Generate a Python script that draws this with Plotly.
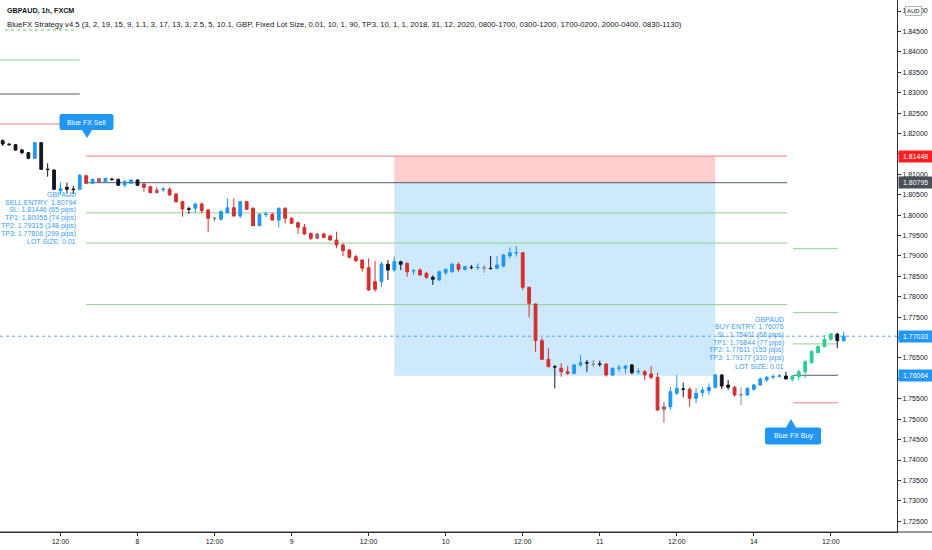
import pandas as pd
import plotly.graph_objects as go

# ---------------- data ----------------
bar_times = (list(pd.date_range("2020-12-07 03:00", "2020-12-11 21:00", freq="h")) +
             list(pd.date_range("2020-12-13 22:00", "2020-12-14 14:00", freq="h")))

open_ = [1.81823,1.81742,1.81725,1.81595,1.81529,1.81392,1.81774,1.81130,1.81105,1.80598,
         1.80681,1.80640,1.80632,1.80965,1.80779,1.80892,1.80818,1.80885,1.80877,1.80738,
         1.80779,1.80860,1.80762,1.80696,1.80615,1.80625,1.80632,1.80517,1.80328,1.80157,
         1.80167,1.80272,1.80125,1.79929,1.79897,1.80059,1.80181,1.79978,1.80328,1.80167,
         1.79740,1.80012,1.80020,1.79880,1.80167,1.79922,1.79814,1.79701,1.79554,1.79537,
         1.79537,1.79488,1.79390,1.79268,1.79145,1.78981,1.78900,1.78711,1.78368,1.78368,
         1.78655,1.78655,1.78858,1.78819,1.78631,1.78655,1.78574,1.78476,1.78410,1.78589,
         1.78613,1.78795,1.78672,1.78721,1.78714,1.78711,1.78697,1.78697,1.78753,1.78998,
         1.79070,1.79079,1.78231,1.77822,1.76923,1.76467,1.76286,1.76247,1.76163,1.76124,
         1.76328,1.76384,1.76352,1.76352,1.76352,1.76083,1.76247,1.76247,1.76328,1.76163,
         1.76163,1.76107,1.76026,1.75306,1.75306,1.75634,1.75740,1.75732,1.75512,1.75649,
         1.75698,1.75781,1.76083,1.75838,1.75781,1.75593,1.75593,1.75732,1.75838,1.75960,
         1.76034,1.76051,1.76058,1.75977,1.76041,1.76163,1.76384,1.76629,1.76776,1.76957,
         1.77087,1.76923]
high = [1.81857,1.81759,1.81742,1.81627,1.81546,1.81791,1.81791,1.81269,1.81122,1.80804,
        1.80794,1.80713,1.81007,1.80990,1.80892,1.80916,1.80909,1.80916,1.80892,1.80860,
        1.80877,1.80877,1.80794,1.80713,1.80696,1.80681,1.80681,1.80534,1.80353,1.80206,
        1.80304,1.80304,1.80142,1.79961,1.80125,1.80412,1.80412,1.80353,1.80353,1.80191,
        1.80044,1.80083,1.80059,1.80191,1.80191,1.79946,1.79838,1.79782,1.79569,1.79569,
        1.79569,1.79513,1.79593,1.79309,1.79162,1.79023,1.78917,1.78942,1.78883,1.78858,
        1.78900,1.78981,1.78883,1.78834,1.78672,1.78697,1.78613,1.78525,1.78638,1.78697,
        1.78834,1.78844,1.78753,1.78778,1.78819,1.78778,1.78998,1.78998,1.79047,1.79211,
        1.79243,1.79096,1.78246,1.77839,1.76989,1.76737,1.76328,1.76369,1.76303,1.76352,
        1.76573,1.76450,1.76450,1.76433,1.76369,1.76271,1.76328,1.76328,1.76352,1.76247,
        1.76205,1.76303,1.76139,1.75428,1.75796,1.76083,1.75894,1.75781,1.75757,1.75781,
        1.75879,1.76107,1.76107,1.75960,1.75813,1.75781,1.75781,1.75862,1.76026,1.76058,
        1.76107,1.76107,1.76163,1.76083,1.76222,1.76450,1.76695,1.76818,1.77063,1.77119,
        1.77119,1.77143]
low = [1.81693,1.81700,1.81578,1.81490,1.81367,1.81382,1.81105,1.80941,1.80615,1.80517,
       1.80534,1.80517,1.80615,1.80762,1.80762,1.80794,1.80804,1.80843,1.80713,1.80681,
       1.80762,1.80713,1.80573,1.80534,1.80534,1.80566,1.80475,1.80304,1.79961,1.80027,
       1.80059,1.80044,1.79593,1.79838,1.79863,1.80044,1.79961,1.79922,1.80125,1.79733,
       1.79733,1.79946,1.79863,1.79701,1.79799,1.79782,1.79537,1.79513,1.79390,1.79407,
       1.79432,1.79373,1.79187,1.78998,1.78942,1.78858,1.78613,1.78148,1.78123,1.78246,
       1.78410,1.78613,1.78655,1.78491,1.78533,1.78508,1.78442,1.78288,1.78393,1.78533,
       1.78589,1.78613,1.78638,1.78672,1.78655,1.78589,1.78672,1.78672,1.78721,1.78942,
       1.78981,1.78165,1.77496,1.76653,1.76450,1.76271,1.75757,1.76041,1.76083,1.76100,
       1.76286,1.76163,1.76271,1.76286,1.76041,1.76058,1.76163,1.76124,1.76100,1.76100,
       1.75960,1.75977,1.75208,1.74914,1.75225,1.75593,1.75536,1.75306,1.75389,1.75551,
       1.75593,1.75757,1.75732,1.75715,1.75551,1.75348,1.75568,1.75698,1.75813,1.75918,
       1.75977,1.76026,1.75977,1.75918,1.75943,1.76002,1.76352,1.76614,1.76761,1.76923,
       1.76737,1.76898]
close = [1.81742,1.81727,1.81595,1.81529,1.81392,1.81774,1.81122,1.81115,1.80632,1.80647,
         1.80632,1.80625,1.80975,1.80779,1.80877,1.80811,1.80902,1.80870,1.80730,1.80818,
         1.80860,1.80730,1.80681,1.80549,1.80549,1.80640,1.80493,1.80328,1.80150,1.80142,
         1.80272,1.80108,1.79922,1.79914,1.80083,1.80181,1.79978,1.80328,1.80142,1.79740,
         1.80020,1.80027,1.79880,1.80167,1.79922,1.79799,1.79701,1.79537,1.79432,1.79432,
         1.79456,1.79390,1.79268,1.79128,1.78966,1.78883,1.78697,1.78165,1.78182,1.78802,
         1.78795,1.78858,1.78795,1.78613,1.78643,1.78533,1.78476,1.78427,1.78613,1.78672,
         1.78795,1.78672,1.78736,1.78714,1.78721,1.78704,1.78689,1.78778,1.79023,1.79079,
         1.79082,1.78231,1.77839,1.76923,1.76467,1.76286,1.76278,1.76163,1.76124,1.76328,
         1.76384,1.76377,1.76345,1.76345,1.76083,1.76247,1.76254,1.76303,1.76139,1.76171,
         1.76083,1.76026,1.75225,1.75242,1.75673,1.75757,1.75732,1.75512,1.75634,1.75715,
         1.75781,1.76083,1.75813,1.75781,1.75593,1.75602,1.75757,1.75838,1.75985,1.76026,
         1.76041,1.76058,1.75985,1.76058,1.76163,1.76408,1.76653,1.76776,1.76957,1.77087,
         1.76923,1.77033]
# bar colour codes (K black, B blue, R red, Q grey-red, G grey, T teal)
bar_colors = ("KKKKKBKKKB" "KKBRBQBKKB" "BKRRQBRRRK" "BRRGBBRBRR" "BBRBRRRRRQ"
              "RRRRRRRRRB" "KBKRBRRKBB" "BRBKBGKBBB" "BRRRRRKRRB" "BKGKRBBBKB"
              "RRRQBBKRBB" "BBKKRGBBBB" "BBKTTTTTTT" "KB")

tick_times = ["2020-12-07 12:00", "2020-12-08 00:00", "2020-12-08 12:00", "2020-12-09 00:00",
              "2020-12-09 12:00", "2020-12-10 00:00", "2020-12-10 12:00", "2020-12-11 00:00",
              "2020-12-11 12:00", "2020-12-14 00:00", "2020-12-14 12:00"]
tick_labels = ["12:00", "8", "12:00", "9", "12:00", "10", "12:00", "11", "12:00", "14", "12:00"]

sell_levels = {"sl": 1.81446, "entry": 1.80794, "tp1": 1.80055, "tp2": 1.79315, "tp3": 1.77806}
buy_levels = {"sl": 1.75401, "entry": 1.76076, "tp1": 1.76844, "tp2": 1.77611, "tp3": 1.79177}
prev_levels = {"tp": 1.8380, "entry": 1.82967, "sl": 1.82232}
box_top, box_mid, box_bottom = 1.81448, 1.80795, 1.76064
last_price = 1.77033

sell_text = ["GBPAUD", "SELL ENTRY: 1.80794", "SL: 1.81446 (65 pips)", "TP1: 1.80055 (74 pips)",
             "TP2: 1.79315 (148 pips)", "TP3: 1.77806 (299 pips)", "LOT SIZE: 0.01"]
buy_text = ["GBPAUD", "BUY ENTRY: 1.76076", "SL: 1.75401 (68 pips)", "TP1: 1.76844 (77 pips)",
            "TP2: 1.77611 (153 pips)", "TP3: 1.79177 (310 pips)", "LOT SIZE: 0.01"]

title1 = "GBPAUD, 1h, FXCM"
title2 = ("BlueFX Strategy v4.5 (3, 2, 19, 15, 9, 1.1, 3, 17, 13, 3, 2.5, 5, 10.1, GBP, Fixed Lot Size, "
          "0.01, 10, 1, 90, TP3, 10, 1, 1, 2018, 31, 12, 2020, 0800-1700, 0300-1200, 1700-0200, "
          "2000-0400, 0830-1130)")

# ---------------- styling / layout helpers ----------------
W, H = 932, 550
ML, MR, MT, MB = 0, 35, 0, 18
PW, PH = W - ML - MR, H - MT - MB
FONT = "Liberation Sans, Arial, sans-serif"
COLS = {"K": "#131722", "B": "#2196f3", "R": "#d32f2f", "Q": "#a85a70", "G": "#8c8c8c", "T": "#2ecc9a"}
BLUE = "#2196f3"
TXT_BLUE = "#3a9cf0"

def PX(x):
    return x / PW

def PY(y):
    return 1 - y / PH

def P(x, y):
    return f"{PX(x):.5f},{PY(y):.5f}"

xs = list(range(len(close)))
time_index = {t.strftime("%Y-%m-%d %H:%M"): i for i, t in enumerate(bar_times)}
tickvals = [time_index[t] for t in tick_times]

fig = go.Figure()

for code, col in COLS.items():
    idx = [i for i, c in enumerate(bar_colors) if c == code]
    if not idx:
        continue
    fig.add_trace(go.Candlestick(
        x=[xs[i] for i in idx], open=[open_[i] for i in idx], high=[high[i] for i in idx],
        low=[low[i] for i in idx], close=[close[i] for i in idx],
        increasing=dict(line=dict(color=col, width=1), fillcolor=col),
        decreasing=dict(line=dict(color=col, width=1), fillcolor=col),
        whiskerwidth=0, showlegend=False, hoverinfo="skip"))

shapes = []
# position tool boxes
shapes.append(dict(type="rect", xref="x", yref="y", x0=61, x1=111, y0=box_mid, y1=box_top,
                   fillcolor="rgba(255,82,82,0.28)", line=dict(width=0), layer="below"))
shapes.append(dict(type="rect", xref="x", yref="y", x0=61, x1=111, y0=box_bottom, y1=box_mid,
                   fillcolor="rgba(33,150,243,0.22)", line=dict(width=0), layer="below"))

LC = {"sl": "#f07c7c", "entry": "#555a66", "tp1": "#8fcf8f", "tp2": "#8fcf8f", "tp3": "#8fcf8f", "tp": "#8fcf8f"}
for k, v in sell_levels.items():
    shapes.append(dict(type="line", xref="x", yref="y", x0=13, x1=122.2, y0=v, y1=v,
                       line=dict(color=LC[k], width=1), layer="below"))
for k, v in buy_levels.items():
    shapes.append(dict(type="line", xref="x", yref="y", x0=123.1, x1=130.1, y0=v, y1=v,
                       line=dict(color=LC[k], width=1), layer="below"))
for k, v in prev_levels.items():
    shapes.append(dict(type="line", xref="x", yref="y", x0=-0.5, x1=12, y0=v, y1=v,
                       line=dict(color=LC[k], width=1), layer="below"))
# last price dotted line
shapes.append(dict(type="line", xref="paper", yref="y", x0=0, x1=1, y0=last_price, y1=last_price,
                   line=dict(color="#5aa9ee", width=1, dash="dot"), layer="below"))
# bottom axis line extended under price scale
shapes.append(dict(type="line", xref="paper", yref="paper", x0=0, x1=W / PW, y0=0, y1=0,
                   line=dict(color="#2a2e39", width=1)))
# green underline of the indicator name
shapes.append(dict(type="line", xref="paper", yref="paper", x0=PX(5), x1=PX(76), y0=PY(30), y1=PY(30),
                   line=dict(color="#6cc070", width=1, dash="dot")))

# callouts
sell_path = ("M " + P(61.5, 114) + " L " + P(111.5, 114) + " Q " + P(113.5, 114) + " " + P(113.5, 116) +
             " L " + P(113.5, 128) + " Q " + P(113.5, 130) + " " + P(111.5, 130) +
             " L " + P(92, 130) + " L " + P(87, 138) + " L " + P(82, 130) +
             " L " + P(61.5, 130) + " Q " + P(59.5, 130) + " " + P(59.5, 128) +
             " L " + P(59.5, 116) + " Q " + P(59.5, 114) + " " + P(61.5, 114) + " Z")
buy_path = ("M " + P(767, 427.5) + " L " + P(786, 427.5) + " L " + P(791, 419) + " L " + P(796, 427.5) +
            " L " + P(819, 427.5) + " Q " + P(821, 427.5) + " " + P(821, 429.5) +
            " L " + P(821, 442.5) + " Q " + P(821, 444.5) + " " + P(819, 444.5) +
            " L " + P(767, 444.5) + " Q " + P(765, 444.5) + " " + P(765, 442.5) +
            " L " + P(765, 429.5) + " Q " + P(765, 427.5) + " " + P(767, 427.5) + " Z")
for pth in (sell_path, buy_path):
    shapes.append(dict(type="path", xref="paper", yref="paper", path=pth,
                       fillcolor=BLUE, line=dict(width=0)))

ann = []
ann.append(dict(text="Blue FX Sell", x=PX(86.5), y=PY(122), xref="paper", yref="paper",
                xanchor="center", yanchor="middle",
                showarrow=False, font=dict(family=FONT, size=7, color="white")))
ann.append(dict(text="Blue FX Buy", x=PX(793), y=PY(436), xref="paper", yref="paper",
                xanchor="center", yanchor="middle",
                showarrow=False, font=dict(family=FONT, size=7, color="white")))

for i, s in enumerate(sell_text):
    ann.append(dict(text=s, x=PX(78), y=PY(194.5 + i * 7.8), xref="paper", yref="paper",
                    xanchor="right", yanchor="middle", showarrow=False,
                    font=dict(family=FONT, size=7, color=TXT_BLUE)))
for i, s in enumerate(buy_text):
    ann.append(dict(text=s, x=PX(786), y=PY(319 + i * 7.85), xref="paper", yref="paper",
                    xanchor="right", yanchor="middle", showarrow=False,
                    font=dict(family=FONT, size=7, color=TXT_BLUE)))

ann.append(dict(text="<b>" + title1 + "</b>", x=PX(5), y=PY(10), xref="paper", yref="paper",
                xanchor="left", yanchor="middle", showarrow=False,
                font=dict(family=FONT, size=7.2, color="#131722")))
ann.append(dict(text=title2, x=PX(5), y=PY(25), xref="paper", yref="paper",
                xanchor="left", yanchor="middle", showarrow=False,
                font=dict(family=FONT, size=7.7, color="#131722")))

# price labels on the scale
for val, bg in ((box_top, "#ff1e1e"), (box_mid, "#4a4e58"), (last_price, BLUE), (box_bottom, BLUE)):
    ann.append(dict(text=f"&nbsp;{val:.5f}&nbsp;", x=1.001, y=val, xref="paper", yref="y", xanchor="left",
                    yanchor="middle", showarrow=False, bgcolor=bg, borderpad=2,
                    font=dict(family=FONT, size=7, color="white")))
ann.append(dict(text="AUD", x=PX(913), y=PY(11), xref="paper", yref="paper", xanchor="center",
                yanchor="middle", showarrow=False, bgcolor="white", bordercolor="#b2b5be",
                borderwidth=1, borderpad=1, font=dict(family=FONT, size=6, color="#131722")))

fig.update_layout(
    width=W, height=H, margin=dict(l=ML, r=MR, t=MT, b=MB),
    paper_bgcolor="white", plot_bgcolor="white",
    showlegend=False, boxgap=0.38,
    shapes=shapes, annotations=ann,
    xaxis=dict(range=[-0.42, 139.3], showgrid=False, zeroline=False, rangeslider=dict(visible=False),
               tickmode="array", tickvals=tickvals, ticktext=tick_labels,
               ticks="outside", ticklen=3, tickcolor="#2a2e39", showline=True, linecolor="#2a2e39",
               tickfont=dict(family=FONT, size=7, color="#131722")),
    yaxis=dict(side="right", range=[1.72236, 1.85270], showgrid=False, zeroline=False,
               tick0=1.725, dtick=0.005, tickformat=".5f",
               ticks="outside", ticklen=3, tickcolor="#2a2e39", showline=True, linecolor="#2a2e39",
               tickfont=dict(family=FONT, size=7, color="#131722")),
)

fig.write_html("out.html", config={"displayModeBar": False},
               post_script="document.body.style.margin='0';document.body.style.overflow='hidden';")
